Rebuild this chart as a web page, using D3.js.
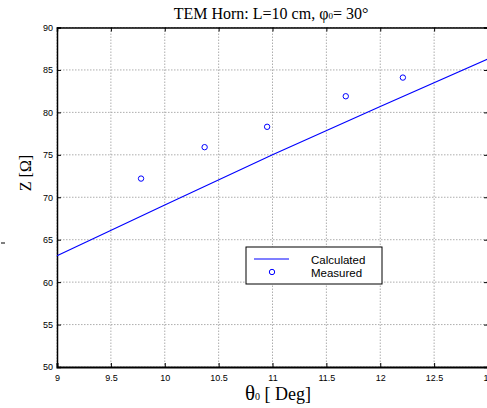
<!DOCTYPE html>
<html>
<head>
<meta charset="utf-8">
<script src="https://cdn.jsdelivr.net/npm/d3@7"></script>
<style>
  body { margin: 0; background: #fff; }
  svg { display: block; }
  .tick text { font-family: "Liberation Sans", Arial, sans-serif; font-size: 9px; fill: #000; }
  .serif { font-family: "Liberation Serif", "Times New Roman", serif; fill: #000; }
</style>
</head>
<body>
<div id="chart"></div>
<script>
// data
const calcTheta = [9, 10, 11, 12, 13]
const calcZ = [63.1, 69.1, 75.0, 80.7, 86.3]
const measTheta = [9.78, 10.37, 10.95, 11.68, 12.21]
const measZ = [72.2, 75.9, 78.3, 81.9, 84.1]
const xTicks = [9, 9.5, 10, 10.5, 11, 11.5, 12, 12.5, 13]
const yTicks = [50, 55, 60, 65, 70, 75, 80, 85, 90]
const legendLabels = ['Calculated', 'Measured']

const W = 487, H = 408
const margin = {top: 27.5, right: -1, bottom: 41, left: 57}
const iw = W - margin.left - margin.right
const ih = H - margin.top - margin.bottom

const svg = d3.select('#chart').append('svg')
  .attr('width', W).attr('height', H)

const x = d3.scaleLinear().domain([9, 13]).range([0, iw])
const y = d3.scaleLinear().domain([50, 90]).range([ih, 0])

const g = svg.append('g').attr('transform', `translate(${margin.left},${margin.top})`)

//grid
g.append('g').selectAll('line').data(xTicks).enter().append('line')
  .attr('x1', d => x(d)).attr('x2', d => x(d))
  .attr('y1', 0).attr('y2', ih)
  .attr('stroke', '#999').attr('stroke-width', 0.8).attr('stroke-dasharray', '1.5,1.5')
g.append('g').selectAll('line').data(yTicks).enter().append('line')
  .attr('x1', 0).attr('x2', iw)
  .attr('y1', d => y(d)).attr('y2', d => y(d))
  .attr('stroke', '#999').attr('stroke-width', 0.8).attr('stroke-dasharray', '1.5,1.5')

// axes
const xAxis = g.append('g').attr('transform', `translate(0,${ih})`)
  .call(d3.axisBottom(x).tickValues(xTicks).tickSize(-4).tickPadding(8).tickFormat(d3.format('')))
const yAxis = g.append('g')
  .call(d3.axisLeft(y).tickValues(yTicks).tickSize(-4).tickPadding(4))
const topAxis = g.append('g')
  .call(d3.axisTop(x).tickValues(xTicks).tickSize(-4).tickFormat(''))
const rightAxis = g.append('g').attr('transform', `translate(${iw},0)`)
  .call(d3.axisRight(y).tickValues(yTicks).tickSize(-4).tickFormat(''))
;[xAxis, yAxis, topAxis, rightAxis].forEach(a => {
  a.select('.domain').attr('stroke', '#000').attr('stroke-width', 1.5)
  a.selectAll('.tick line').attr('stroke', '#000')
})
xAxis.select('.domain').attr('stroke-width', 2)

// calculated line
const line = d3.line().x((d, i) => x(calcTheta[i])).y(d => y(d))
g.append('path').datum(calcZ)
  .attr('d', line).attr('fill', 'none').attr('stroke', '#0000ff').attr('stroke-width', 1.1)

// measured
g.append('g').selectAll('circle').data(measZ).enter().append('circle')
  .attr('cx', (d, i) => x(measTheta[i])).attr('cy', d => y(d)).attr('r', 2.7)
  .attr('fill', 'none').attr('stroke', '#0000ff').attr('stroke-width', 1)

// legend
const leg = svg.append('g').attr('transform', 'translate(246,247)')
leg.append('rect').attr('width', 136).attr('height', 37)
  .attr('fill', '#fff').attr('stroke', '#000').attr('stroke-width', 1)
leg.append('line').attr('x1', 8).attr('x2', 43).attr('y1', 12).attr('y2', 12)
  .attr('stroke', '#0000ff').attr('stroke-width', 1.1)
leg.append('circle').attr('cx', 26).attr('cy', 25).attr('r', 2.7)
  .attr('fill', 'none').attr('stroke', '#0000ff')
leg.selectAll('text').data(legendLabels).enter().append('text')
  .attr('x', 65).attr('y', (d, i) => 17 + i * 12.5)
  .attr('font-family', '"Liberation Sans", Arial, sans-serif').attr('font-size', 11.5)
  .text(d => d)

// title
const title = svg.append('text').attr('class', 'serif')
  .attr('x', 271).attr('y', 19).attr('text-anchor', 'middle').attr('font-size', 16)
title.append('tspan').text('TEM Horn: L=10 cm, φ')
title.append('tspan').attr('font-size', 9).text('0')
title.append('tspan').text('= 30°')

// x label
const xl = svg.append('text').attr('class', 'serif')
  .attr('x', 278).attr('y', 400).attr('text-anchor', 'middle').attr('font-size', 18)
xl.append('tspan').attr('font-size', 21).text('θ')
xl.append('tspan').attr('font-size', 10).text('0')
xl.append('tspan').text(' [ Deg]')

// y label
svg.append('text').attr('class', 'serif')
  .attr('transform', 'translate(31,173) rotate(-90)')
  .attr('text-anchor', 'middle').attr('font-size', 16)
  .text('Z [Ω]')

// stray mark at left edge
svg.append('line').attr('x1', 1).attr('x2', 5).attr('y1', 243).attr('y2', 243)
  .attr('stroke', '#000').attr('stroke-width', 1)
</script>
</body>
</html>
